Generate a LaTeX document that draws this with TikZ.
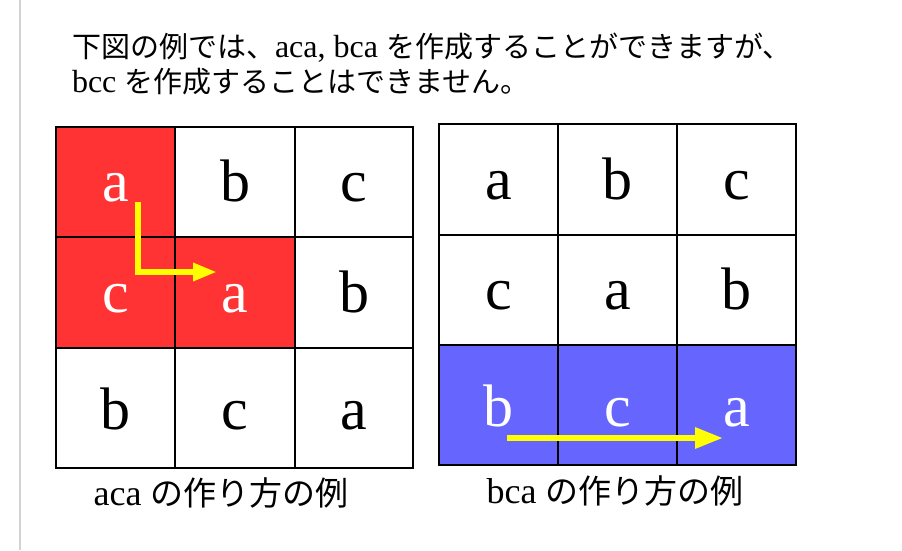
\documentclass[tikz,border=0pt]{standalone}
\usepackage{fontspec}
\setmainfont{Liberation Serif}
\newfontfamily\jp{Noto Sans CJK JP}
\usetikzlibrary{arrows.meta}
\definecolor{cellred}{RGB}{255,51,51}
\definecolor{cellblue}{RGB}{102,102,255}
\definecolor{arrowyellow}{RGB}{255,255,0}
\definecolor{sideline}{RGB}{210,210,210}
\newcommand\bodyjp{\jp\fontsize{29}{35}\selectfont}
\newcommand\capjp{\jp\fontsize{33}{38}\selectfont}
\tikzset{
  gcell/.style={draw=black,line width=2pt,inner sep=0pt,outer sep=0pt,rectangle},
  cellletter/.style={inner sep=0pt,outer sep=0pt,font=\fontsize{60}{60}\selectfont},
  bodytext/.style={inner sep=0pt,outer sep=0pt,anchor=base west,font=\fontsize{32}{35}\selectfont},
  captext/.style={inner sep=0pt,outer sep=0pt,anchor=base,font=\fontsize{36}{38}\selectfont},
  yarrow/.style={draw=arrowyellow,line width=6pt,-{Triangle[length=24pt,width=17pt]}}
}
\newcommand\gcell[8]{%
  \pgfmathsetmacro\gw{#4-#2}\pgfmathsetmacro\gh{#5-#3}%
  \pgfmathsetmacro\gcx{(#2+#4)/2}\pgfmathsetmacro\gcy{(#3+#5)/2}%
  \pgfmathsetmacro\gby{#3+0.68*\gh}%
  \node[gcell,fill=#6,minimum width=\gw pt,minimum height=\gh pt] (#1) at (\gcx,\gcy) {};
  \node[cellletter,text=#8,anchor=base] (#1t) at (\gcx,\gby) {#7};
}
\begin{document}
\begin{tikzpicture}[x=1pt,y=-1pt]
\useasboundingbox[fill=white] (0,0) rectangle (902,550);
\coordinate (vtop) at (20,0);
\coordinate (vbot) at (20,550);
\draw[sideline,line width=1.5pt] (vtop) -- (vbot);

\node[bodytext] (line1) at (72,57) {{\bodyjp 下図の例では、}aca, bca {\bodyjp を作成することができますが、}};
\node[bodytext] (line2) at (72,92) {bcc {\bodyjp を作成することはできません。}};

% left grid
\gcell{L11}{56}{127}{175}{237}{cellred}{a}{white}
\gcell{L12}{175}{127}{295}{237}{white}{b}{black}
\gcell{L13}{295}{127}{413}{237}{white}{c}{black}
\gcell{L21}{56}{237}{175}{348}{cellred}{c}{white}
\gcell{L22}{175}{237}{295}{348}{cellred}{a}{white}
\gcell{L23}{295}{237}{413}{348}{white}{b}{black}
\gcell{L31}{56}{348}{175}{468}{white}{b}{black}
\gcell{L32}{175}{348}{295}{468}{white}{c}{black}
\gcell{L33}{295}{348}{413}{468}{white}{a}{black}

% right grid
\gcell{R11}{439}{124}{558}{235}{white}{a}{black}
\gcell{R12}{558}{124}{677}{235}{white}{b}{black}
\gcell{R13}{677}{124}{796}{235}{white}{c}{black}
\gcell{R21}{439}{235}{558}{345}{white}{c}{black}
\gcell{R22}{558}{235}{677}{345}{white}{a}{black}
\gcell{R23}{677}{235}{796}{345}{white}{b}{black}
\gcell{R31}{439}{345}{558}{465}{cellblue}{b}{white}
\gcell{R32}{558}{345}{677}{465}{cellblue}{c}{white}
\gcell{R33}{677}{345}{796}{465}{cellblue}{a}{white}

% arrows
\coordinate (la) at (138,202);
\coordinate (lb) at (138,272);
\coordinate (lc) at (217,272);
\draw[yarrow] (la) -- (lb) -- (lc);
\coordinate (ra) at (507,438);
\coordinate (rb) at (723,438);
\draw[yarrow,-{Triangle[length=28pt,width=20pt]}] (ra) -- (rb);

% captions
\node[captext] (cap1) at (221,505) {aca {\capjp の作り方の例}};
\node[captext] (cap2) at (615,503) {bca {\capjp の作り方の例}};
\end{tikzpicture}
\end{document}
